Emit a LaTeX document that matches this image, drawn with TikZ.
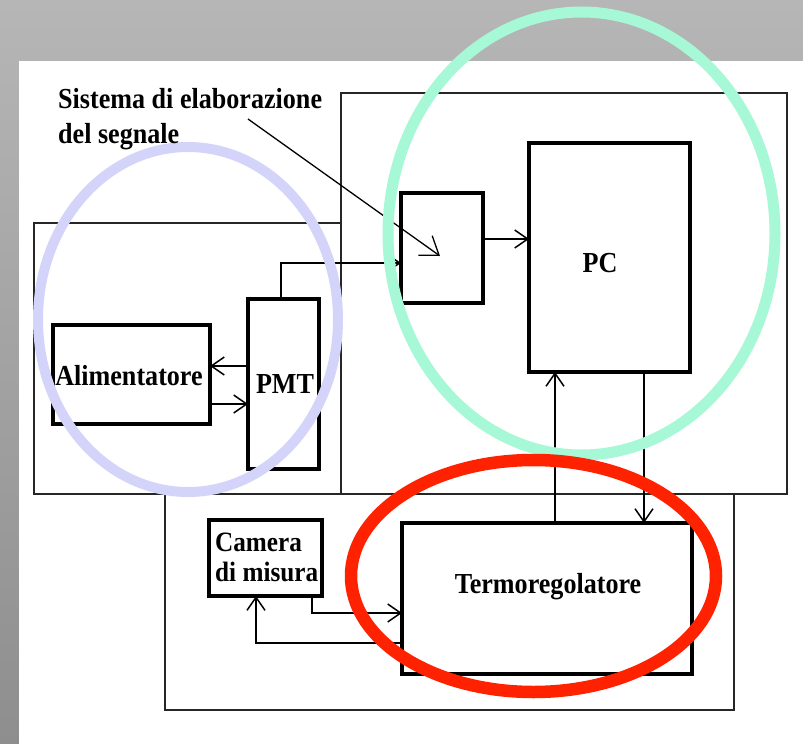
\documentclass[tikz,border=0pt]{standalone}
\usepackage{fontspec}
\setmainfont{Liberation Serif}[FakeStretch=0.9]
\usetikzlibrary{arrows.meta}
\definecolor{lav}{RGB}{212,212,250}
\definecolor{mint}{RGB}{166,248,214}
\definecolor{redring}{RGB}{255,34,0}
\definecolor{bgtop}{RGB}{182,182,182}
\definecolor{bgbot}{RGB}{142,142,142}
\begin{document}
\begin{tikzpicture}[x=1pt,y=-1pt,
  outerbox/.style={draw=black!85, line width=1.8pt, rectangle, inner sep=0pt, outer sep=0pt, anchor=north west},
  blk/.style={draw=black, line width=3.5pt, rectangle, inner sep=0pt, outer sep=0pt, anchor=north west},
  lbl/.style={font=\bfseries\fontsize{29}{35}\selectfont, inner sep=0pt},
  conn/.style={line width=1.5pt, -{Straight Barb[length=13pt,width=18pt]}},
  ring/.style={line width=10pt}]
\useasboundingbox (0,0) rectangle (803,744);
\fill[top color=bgtop, bottom color=bgbot] (0,0) rectangle (803,744);
\fill[white] (19,61) rectangle (803,744);

% outer grouping boxes
\node[outerbox, minimum width=446pt, minimum height=401pt] (sys) at (341,93) {};
\node[outerbox, minimum width=307pt, minimum height=271pt] (acq) at (34,223) {};
\node[outerbox, minimum width=569pt, minimum height=216pt] (thermo) at (165,494) {};

% blocks
\node[blk, minimum width=82pt, minimum height=110pt] (sig) at (401,193) {};
\node[blk, minimum width=161pt, minimum height=229pt] (pc) at (529,143) {};
\node[blk, minimum width=157pt, minimum height=99pt] (alim) at (53,325) {};
\node[blk, minimum width=71pt, minimum height=170pt] (pmt) at (248,299) {};
\node[blk, minimum width=113pt, minimum height=76pt] (cam) at (209,520) {};
\node[blk, minimum width=290pt, minimum height=151pt] (termo) at (402,523) {};

% connectors
\draw[conn] ([xshift=-2.5pt]pmt.north) |- (sig.west |- 0,263);
\draw[conn] (sig.east |- 0,239) -- (pc.west |- 0,239);
\draw[conn] (pmt.west |- 0,366) -- (alim.east |- 0,366);
\draw[conn] (alim.east |- 0,404) -- (pmt.west |- 0,404);
\draw[conn] (termo.north -| 555,0) -- (pc.south -| 555,0);
\draw[conn] (pc.south -| 644,0) -- (termo.north -| 644,0);
\draw[conn] (cam.south -| 312,0) |- (termo.west |- 0,613);
\draw[conn] (termo.west |- 0,643) -| (cam.south -| 256,0);

% pointer of the caption
\coordinate (ptrA) at (248,119);
\coordinate (ptrB) at (440,256);
\draw[line width=1.3pt, -{Straight Barb[length=17pt,width=24pt]}] (ptrA) -- (ptrB);

% highlight rings
\draw[ring, lav] (188,319.5) ellipse [x radius=150pt, y radius=172.5pt];
\draw[ring, mint, line width=11pt] (581.5,233.5) ellipse [x radius=193.5pt, y radius=221.5pt];
\draw[ring, redring, line width=12.5pt] (533.5,576) ellipse [x radius=182.5pt, y radius=116pt];

% labels
\node[lbl, anchor=north west, align=left] (cap) at (58,88.5) {Sistema di elaborazione\\del segnale};
\node[lbl, anchor=base] (pc-t) at (600,272) {PC};
\node[lbl, anchor=base] (pmt-t) at (285,393) {PMT};
\node[lbl, anchor=base] (alim-t) at (129,385) {Alimentatore};
\node[lbl, anchor=base] (termo-t) at (548,593) {Termoregolatore};
\node[lbl, font=\bfseries\fontsize{28}{30}\selectfont, anchor=north west, align=left] (cam-t) at (215,533) {Camera\\di misura};
\end{tikzpicture}
\end{document}
